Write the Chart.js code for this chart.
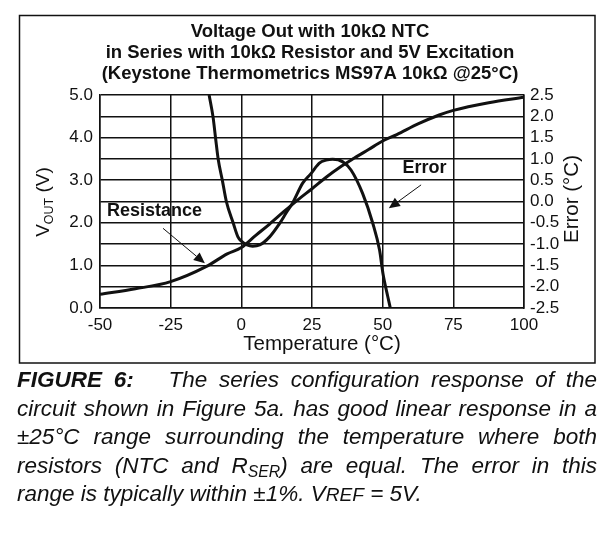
<!DOCTYPE html>
<html>
<head>
<meta charset="utf-8">
<script src="https://cdn.jsdelivr.net/npm/chart.js@4.4.1/dist/chart.umd.min.js"></script>
<style>
  html, body { margin: 0; padding: 0; background: #fff; }
  #wrap { position: relative; width: 615px; height: 533px; overflow: hidden; }
  #c { position: absolute; left: 0; top: 0; }
  #caption { position: absolute; left: 17px; top: 366px; width: 580px;
    font: italic 22.5px "Liberation Sans", Arial, sans-serif; color: #111; }
  #caption div { height: 28.6px; line-height: 28.6px; white-space: nowrap;
    text-align: justify; text-align-last: justify; }
  #caption div.last { text-align-last: left; }
  #caption b { font-weight: bold; }
  #caption sub { font-size: 0.7em; vertical-align: -0.25em; line-height: 0; }
</style>
</head>
<body>
<div id="wrap">
  <canvas id="c" width="615" height="533"></canvas>
  <div id="caption">
    <div><b>FIGURE 6:</b>&nbsp;&nbsp; The series configuration response of the</div>
    <div>circuit shown in Figure 5a. has good linear response in a</div>
    <div>±25°C range surrounding the temperature where both</div>
    <div>resistors (NTC and R<sub>SER</sub>) are equal. The error in this</div>
    <div class="last">range is typically within ±1%. V<span style="font-size:0.85em">REF</span> = 5V.</div>
  </div>
</div>
<script>
// Vout (V)
var voutTemps = [-50, -37.5, -25, -12.5, -5, 0, 5, 10, 15, 20, 25, 30, 35, 40, 45, 50, 55, 62.5, 70, 75, 87.5, 100];
var voutValues = [0.32, 0.45, 0.62, 0.97, 1.27, 1.42, 1.7, 1.97, 2.26, 2.54, 2.8, 3.07, 3.31, 3.52, 3.72, 3.92, 4.07, 4.32, 4.53, 4.64, 4.82, 4.95];

// Error (°C), right axis
var errTemps = [-11.4, -10, -9.1, -8.2, -6.7, -5.3, -2.9, -1.2, 0, 2, 4, 6.5, 10, 13.5, 16, 18.1, 21.7, 24.7, 27.6, 30, 32.3, 35.9, 38.8, 42.9, 46.5, 48.9, 50.1, 51.8, 52.7];
var errValues = [2.5, 1.98, 1.48, 1.0, 0.49, 0.0, -0.5, -0.83, -0.93, -1.02, -1.05, -1.02, -0.83, -0.52, -0.25, -0.04, 0.43, 0.66, 0.9, 0.97, 0.99, 0.93, 0.74, 0.19, -0.51, -1.14, -1.69, -2.23, -2.5];

var titleLines = [
  'Voltage Out with 10k\u03A9 NTC',
  'in Series with 10k\u03A9 Resistor and 5V Excitation',
  '(Keystone Thermometrics MS97A 10k\u03A9 @25\u00B0C)'
];

function toPoints(xs, ys) {
  return xs.map(function (x, i) { return { x: x, y: ys[i] }; });
}

var FONT = '"Liberation Sans", Arial, sans-serif';
var INK = '#111';

// label + arrow annotations, given in data units (x = °C, y = V on left axis)
var notes = [
  { text: 'Resistance', x: -47.5, y: 2.28, from: [-27.7, 1.87], to: [-12.9, 1.05] },
  { text: 'Error', x: 57.0, y: 3.29, from: [63.6, 2.89], to: [52.2, 2.34] }
];

function arrow(ctx, x1, y1, x2, y2) {
  var a = Math.atan2(y2 - y1, x2 - x1);
  var len = 11, w = 5;
  ctx.beginPath();
  ctx.moveTo(x1, y1);
  ctx.lineTo(x2 - Math.cos(a) * len, y2 - Math.sin(a) * len);
  ctx.lineWidth = 1;
  ctx.stroke();
  ctx.beginPath();
  ctx.moveTo(x2, y2);
  ctx.lineTo(x2 - Math.cos(a) * len - Math.sin(a) * w, y2 - Math.sin(a) * len + Math.cos(a) * w);
  ctx.lineTo(x2 - Math.cos(a) * len + Math.sin(a) * w, y2 - Math.sin(a) * len - Math.cos(a) * w);
  ctx.closePath();
  ctx.fill();
}

var figText = {
  id: 'figText',
  afterDraw: function (chart) {
    var ctx = chart.ctx, xs = chart.scales.x, ys = chart.scales.y;
    ctx.save();
    ctx.strokeStyle = INK;
    ctx.fillStyle = INK;

    // outer frame
    ctx.lineWidth = 1.5;
    ctx.strokeRect(19.5, 15.5, 575.5, 347.5);

    // title
    ctx.font = 'bold 18.5px ' + FONT;
    ctx.textAlign = 'center';
    ctx.textBaseline = 'middle';
    titleLines.forEach(function (t, i) { ctx.fillText(t, 310, 31.5 + i * 21.4); });

    // left axis title: V_OUT (V)
    ctx.save();
    ctx.translate(42, 202);
    ctx.rotate(-Math.PI / 2);
    ctx.textAlign = 'left';
    ctx.textBaseline = 'alphabetic';
    ctx.font = '19px ' + FONT;
    var wV = ctx.measureText('V').width;
    ctx.font = '12.5px ' + FONT;
    var wOut = ctx.measureText('OUT').width;
    ctx.font = '19px ' + FONT;
    var wRest = ctx.measureText(' (V)').width;
    var start = -(wV + wOut + wRest) / 2;
    ctx.fillText('V', start, 7);
    ctx.font = '12.5px ' + FONT;
    ctx.fillText('OUT', start + wV, 11);
    ctx.font = '19px ' + FONT;
    ctx.fillText(' (V)', start + wV + wOut, 7);
    ctx.restore();

    // right axis title: Error (°C), reading bottom to top
    ctx.save();
    ctx.translate(572, 199);
    ctx.rotate(-Math.PI / 2);
    ctx.font = '20.5px ' + FONT;
    ctx.textAlign = 'center';
    ctx.textBaseline = 'middle';
    ctx.fillText('Error (\u00B0C)', 0, 0);
    ctx.restore();

    // x axis title
    ctx.font = '20.5px ' + FONT;
    ctx.textAlign = 'center';
    ctx.textBaseline = 'middle';
    ctx.fillText('Temperature (\u00B0C)', 322, 344);

    // curve labels with arrows
    notes.forEach(function (n) {
      ctx.font = 'bold 18px ' + FONT;
      ctx.textAlign = 'left';
      ctx.textBaseline = 'middle';
      ctx.fillText(n.text, xs.getPixelForValue(n.x), ys.getPixelForValue(n.y));
      arrow(ctx,
        xs.getPixelForValue(n.from[0]), ys.getPixelForValue(n.from[1]),
        xs.getPixelForValue(n.to[0]), ys.getPixelForValue(n.to[1]));
    });
    ctx.restore();
  }
};

var gridStyle = { color: INK, lineWidth: 1.5, drawTicks: false };
var tickFont = { family: FONT, size: 17 };

new Chart(document.getElementById('c'), {
  type: 'line',
  data: {
    datasets: [
      {
        label: 'Vout',
        data: toPoints(voutTemps, voutValues),
        yAxisID: 'y',
        borderColor: INK,
        borderWidth: 3,
        pointRadius: 0,
        cubicInterpolationMode: 'monotone'
      },
      {
        label: 'Error',
        data: toPoints(errTemps, errValues),
        yAxisID: 'y2',
        borderColor: INK,
        borderWidth: 3,
        pointRadius: 0,
        cubicInterpolationMode: 'monotone'
      }
    ]
  },
  options: {
    responsive: false,
    animation: false,
    events: [],
    layout: { padding: { top: 95, left: 0, right: 0, bottom: 0 } },
    plugins: { legend: { display: false }, tooltip: { enabled: false }, title: { display: false } },
    scales: {
      x: {
        type: 'linear',
        min: -50, max: 100,
        grid: gridStyle,
        border: { color: INK, width: 1.5 },
        ticks: { stepSize: 25, color: INK, font: tickFont, padding: 7, maxRotation: 0, autoSkip: false },
        afterFit: function (s) { s.height = 533 - 308; }
      },
      y: {
        position: 'left',
        min: 0, max: 5,
        grid: gridStyle,
        border: { color: INK, width: 1.5 },
        ticks: {
          stepSize: 0.5, color: INK, font: tickFont, padding: 7, autoSkip: false,
          callback: function (v) { return Math.abs(v % 1) < 1e-9 ? v.toFixed(1) : ''; }
        },
        afterFit: function (s) { s.width = 100; }
      },
      y2: {
        position: 'right',
        min: -2.5, max: 2.5,
        grid: { display: false, drawTicks: false },
        border: { color: INK, width: 1.5 },
        ticks: {
          stepSize: 0.5, color: INK, font: tickFont, padding: 6, autoSkip: false,
          callback: function (v) { return v.toFixed(1); }
        },
        afterFit: function (s) { s.width = 615 - 524; }
      }
    }
  },
  plugins: [figText]
});
</script>
</body>
</html>
